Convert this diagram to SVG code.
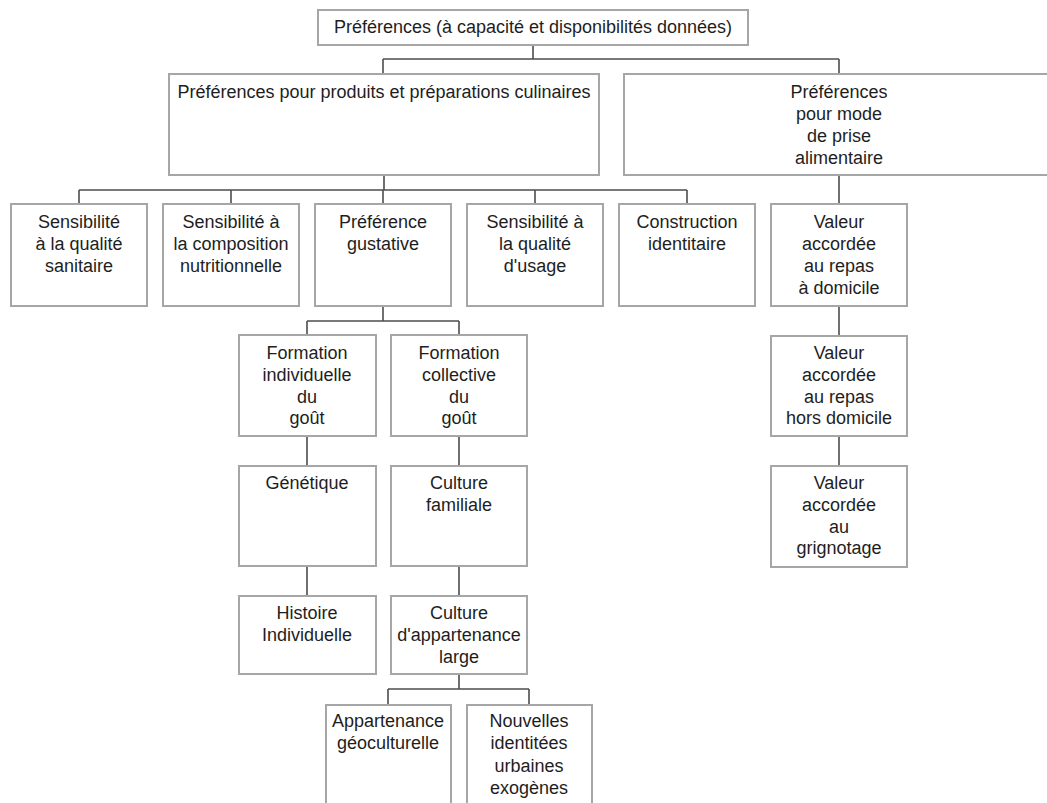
<svg xmlns="http://www.w3.org/2000/svg" width="1047" height="803" viewBox="0 0 1047 803">
<style>
rect{fill:#fff;stroke:#a6a6a6;stroke-width:2}
text{font-family:"Liberation Sans",Arial,sans-serif;font-size:18px;fill:#1e1e1e;text-anchor:middle}
.c path{fill:none;stroke:#4d4d4d;stroke-width:1.6}
</style>
<rect x="0" y="0" width="1047" height="803" style="stroke:none"/>
<g class="c" id="connectors">
<path d="M533 45V59M383 59H839M383 59V74M839 59V74"/>
<path d="M384 175V190M79 190H687M79 190V204M231 190V204M383 190V204M535 190V204M687 190V204"/>
<path d="M839 175V204M839 306V336M839 436V466"/>
<path d="M383 306V321M307 321H459M307 321V335M459 321V335"/>
<path d="M307 436V466M459 436V466M307 566V596M459 566V596"/>
<path d="M459 674V689M388 689H529M388 689V705M529 689V705"/>
</g>
<g id="n-root"><rect x="318" y="10" width="430" height="35"/><text x="533" y="33">Préférences (à capacité et disponibilités données)</text></g>
<g id="n-produits"><rect x="169" y="74" width="430" height="101"/><text x="384" y="98">Préférences pour produits et préparations culinaires</text></g>
<g id="n-mode"><rect x="624" y="74" width="430" height="101"/><text x="839" y="98">Préférences</text><text x="839" y="120">pour mode</text><text x="839" y="142">de prise</text><text x="839" y="164">alimentaire</text></g>
<g id="n-sanitaire"><rect x="11" y="204" width="136" height="102"/><text x="79" y="228">Sensibilité</text><text x="79" y="250">à la qualité</text><text x="79" y="272">sanitaire</text></g>
<g id="n-nutrition"><rect x="163" y="204" width="136" height="102"/><text x="231" y="228">Sensibilité à</text><text x="231" y="250">la composition</text><text x="231" y="272">nutritionnelle</text></g>
<g id="n-gustative"><rect x="315" y="204" width="136" height="102"/><text x="383" y="228">Préférence</text><text x="383" y="250">gustative</text></g>
<g id="n-usage"><rect x="467" y="204" width="136" height="102"/><text x="535" y="228">Sensibilité à</text><text x="535" y="250">la qualité</text><text x="535" y="272">d'usage</text></g>
<g id="n-identitaire"><rect x="619" y="204" width="136" height="102"/><text x="687" y="228">Construction</text><text x="687" y="250">identitaire</text></g>
<g id="n-domicile"><rect x="771" y="204" width="136" height="102"/><text x="839" y="228">Valeur</text><text x="839" y="250">accordée</text><text x="839" y="272">au repas</text><text x="839" y="294">à domicile</text></g>
<g id="n-hors"><rect x="771" y="336" width="136" height="100"/><text x="839" y="359">Valeur</text><text x="839" y="381">accordée</text><text x="839" y="403">au repas</text><text x="839" y="424">hors domicile</text></g>
<g id="n-grignotage"><rect x="771" y="466" width="136" height="101"/><text x="839" y="489">Valeur</text><text x="839" y="511">accordée</text><text x="839" y="533">au</text><text x="839" y="554">grignotage</text></g>
<g id="n-indiv"><rect x="239" y="335" width="137" height="101"/><text x="307" y="359">Formation</text><text x="307" y="381">individuelle</text><text x="307" y="403">du</text><text x="307" y="424">goût</text></g>
<g id="n-collect"><rect x="391" y="335" width="136" height="101"/><text x="459" y="359">Formation</text><text x="459" y="381">collective</text><text x="459" y="403">du</text><text x="459" y="424">goût</text></g>
<g id="n-genetique"><rect x="239" y="466" width="137" height="100"/><text x="307" y="489">Génétique</text></g>
<g id="n-familiale"><rect x="391" y="466" width="136" height="100"/><text x="459" y="489">Culture</text><text x="459" y="511">familiale</text></g>
<g id="n-histoire"><rect x="239" y="596" width="137" height="78"/><text x="307" y="619">Histoire</text><text x="307" y="641">Individuelle</text></g>
<g id="n-large"><rect x="391" y="596" width="136" height="78"/><text x="459" y="619">Culture</text><text x="459" y="641">d'appartenance</text><text x="459" y="663">large</text></g>
<g id="n-geo"><rect x="326" y="705" width="125" height="120"/><text x="388" y="727">Appartenance</text><text x="388" y="749">géoculturelle</text></g>
<g id="n-urbaines"><rect x="467" y="705" width="125" height="120"/><text x="529" y="727">Nouvelles</text><text x="529" y="749">identitées</text><text x="529" y="772">urbaines</text><text x="529" y="794">exogènes</text></g>
</svg>
